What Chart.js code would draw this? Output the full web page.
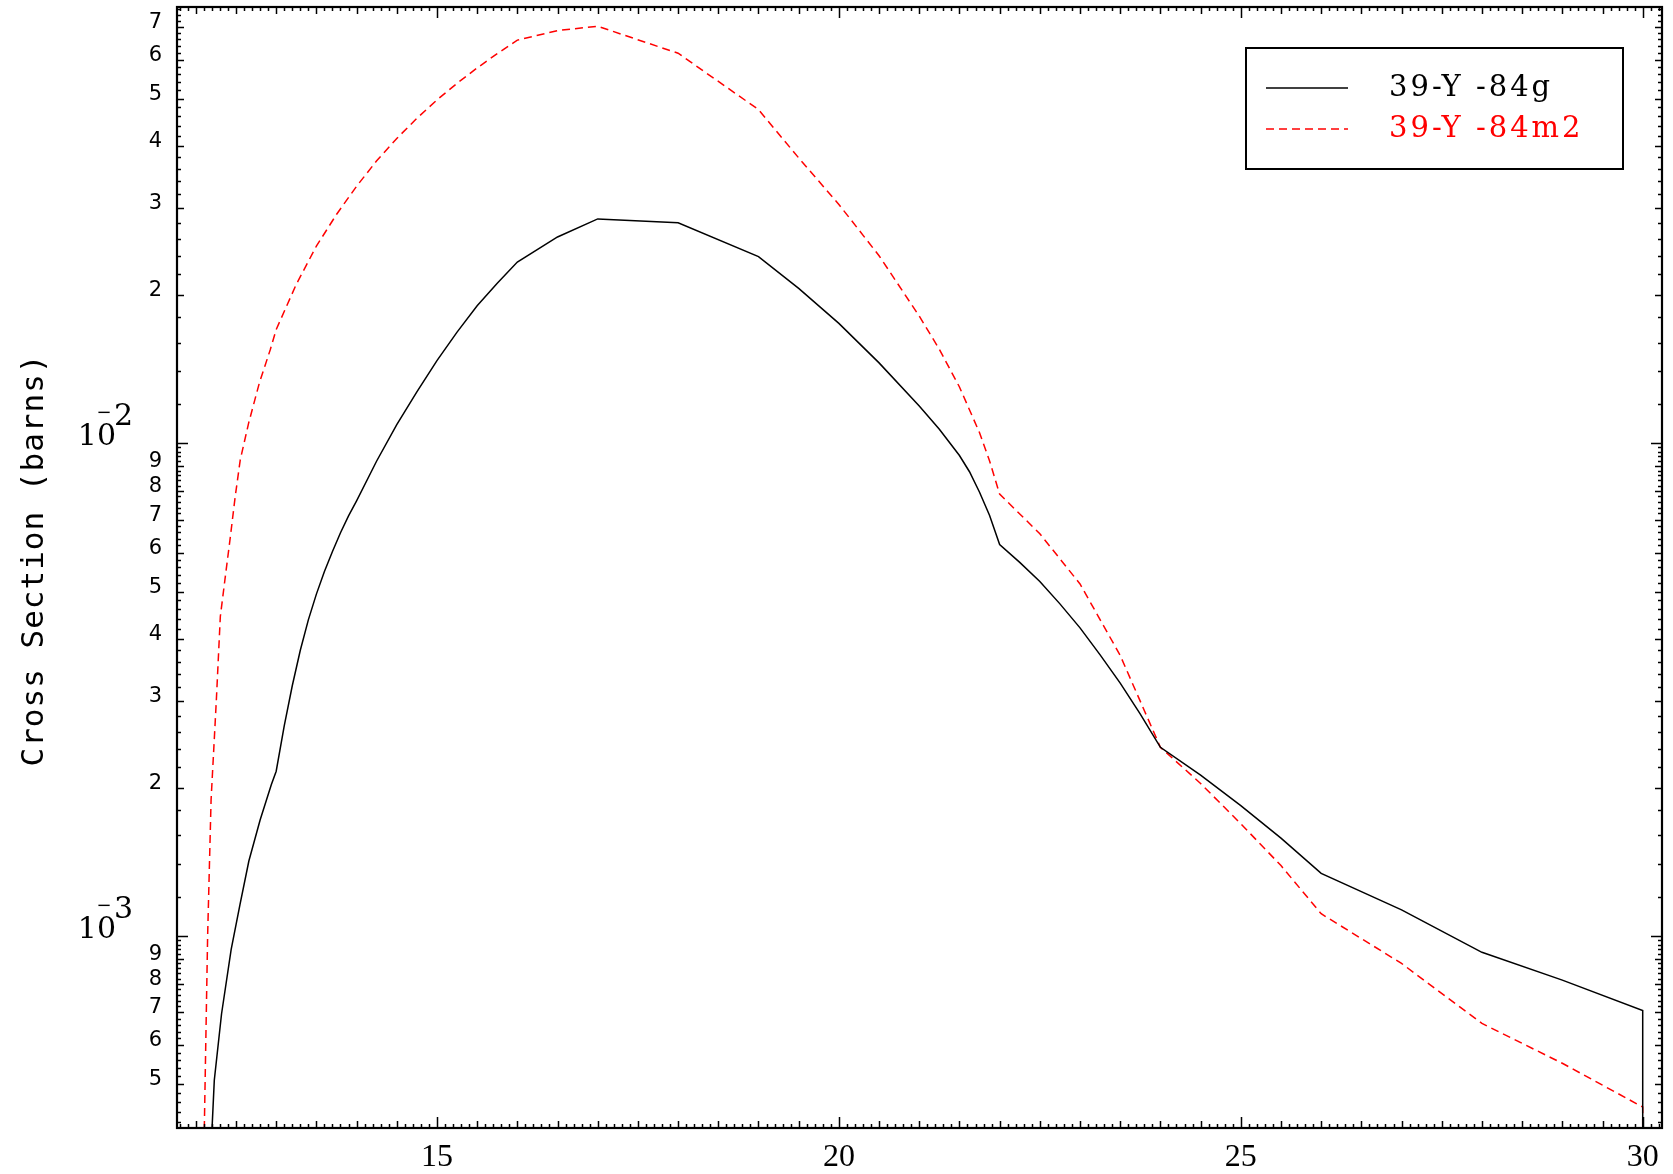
<!DOCTYPE html>
<html>
<head>
<meta charset="utf-8">
<script src="https://cdn.jsdelivr.net/npm/chart.js@4.4.1/dist/chart.umd.min.js"></script>
<style>
  html, body { margin: 0; padding: 0; background: #fff; }
  #wrap { width: 1673px; height: 1174px; }
</style>
</head>
<body>
<div id="wrap"><canvas id="xs-chart" width="1673" height="1174"></canvas></div>
<script>
// incident energy (MeV) and cross section (barns)
const energyG = [12.19, 12.23, 12.32, 12.44, 12.55, 12.66, 12.8, 12.94, 13.0,
  13.1, 13.2, 13.3, 13.4, 13.5, 13.6, 13.7, 13.8, 13.9, 14.0,
  14.25, 14.5, 14.75, 15.0, 15.25, 15.5, 15.75, 16, 16.5, 17, 18, 19, 19.5, 20, 20.5, 21, 21.25, 21.5, 21.625, 21.75, 21.875,
  22, 22.25, 22.5, 22.75, 23, 23.25, 23.5, 23.75, 24, 24.5, 25, 25.5, 26, 27, 28, 29, 30, 30];
const sigmaG = [3.7e-4, 5.1e-4, 6.95e-4, 9.4e-4, 1.16e-3, 1.42e-3, 1.72e-3, 2.03e-3, 2.16e-3,
  2.67e-3, 3.22e-3, 3.80e-3, 4.38e-3, 4.94e-3, 5.49e-3, 6.03e-3, 6.58e-3, 7.12e-3, 7.64e-3,
  9.2e-3, 1.09e-2, 1.27e-2, 1.47e-2, 1.68e-2, 1.90e-2, 2.11e-2, 2.33e-2, 2.62e-2, 2.85e-2, 2.80e-2, 2.39e-2, 2.06e-2, 1.75e-2, 1.455e-2, 1.19e-2, 1.067e-2, 9.44e-3, 8.75e-3, 7.95e-3, 7.13e-3,
  6.23e-3, 5.73e-3, 5.24e-3, 4.72e-3, 4.22e-3, 3.72e-3, 3.26e-3, 2.82e-3, 2.415e-3, 2.12e-3, 1.84e-3, 1.58e-3, 1.34e-3, 1.13e-3, 9.27e-4, 8.14e-4, 7.06e-4, 1e-5];

const energyM = [12.08, 12.106, 12.147, 12.19, 12.255, 12.305, 12.367, 12.43, 12.49, 12.553, 12.657, 12.79, 12.926,
  13.0, 13.25, 13.5, 13.75, 14.0, 14.25, 14.5, 14.75, 15.0, 15.25, 15.5, 15.75, 16, 16.5, 17, 18, 19, 19.5, 20, 20.5, 21, 21.25, 21.5, 21.75, 21.875,
  22, 22.5, 23, 23.5, 24, 24.5, 25, 25.5, 26, 27, 28, 29, 30, 30];
const sigmaM = [1e-5, 4.1e-4, 1.0e-3, 1.89e-3, 3.0e-3, 4.45e-3, 5.36e-3, 6.46e-3, 7.79e-3, 9.25e-3, 1.098e-2, 1.324e-2, 1.547e-2,
  1.70e-2, 2.10e-2, 2.51e-2, 2.91e-2, 3.32e-2, 3.74e-2, 4.15e-2, 4.56e-2, 4.97e-2, 5.37e-2, 5.77e-2, 6.17e-2, 6.57e-2, 6.87e-2, 7.01e-2, 6.18e-2, 4.75e-2, 3.79e-2, 3.05e-2, 2.40e-2, 1.81e-2, 1.55e-2, 1.30e-2, 1.05e-2, 9.2e-3,
  7.88e-3, 6.55e-3, 5.18e-3, 3.71e-3, 2.415e-3, 2.04e-3, 1.69e-3, 1.39e-3, 1.11e-3, 8.8e-4, 6.65e-4, 5.52e-4, 4.5e-4, 1e-5];

const seriesLabels = ["39-Y -84g", "39-Y -84m2"];
const seriesColors = ["#000000", "#ff0000"];
const xTickLabels = [15, 20, 25, 30];
const yDecades = [-4, -3, -2, -1];
const yAxisTitle = "Cross Section (barns)";

const X_MIN = 11.766, X_MAX = 30.24;
const Y_MIN = 4.08e-4, Y_MAX = 7.67e-2;

function toPoints(xs, ys) {
  return xs.map((x, i) => ({ x, y: ys[i] }));
}

const idlAxes = {
  id: "idlAxes",
  afterDatasetsDraw(chart) {
    const { ctx, chartArea: a, scales: { x, y } } = chart;
    ctx.save();
    ctx.strokeStyle = "#000";
    ctx.fillStyle = "#000";

    // x ticks, bottom and top: 0.1 minor, 0.5 medium, 5 major
    ctx.lineWidth = 1.5;
    ctx.beginPath();
    for (let i = Math.ceil(X_MIN * 10); i <= Math.floor(X_MAX * 10); i++) {
      const px = Math.round(x.getPixelForValue(i / 10)) + 0.5;
      const len = i % 50 === 0 ? 11 : i % 5 === 0 ? 7 : 4;
      ctx.moveTo(px, a.bottom); ctx.lineTo(px, a.bottom - len);
      ctx.moveTo(px, a.top); ctx.lineTo(px, a.top + len);
    }
    // y ticks, left and right
    for (const n of yDecades) {
      for (let k = 10; k < 100; k += 2) {
        const v = (k / 10) * Math.pow(10, n);
        if (v < Y_MIN || v > Y_MAX) continue;
        const py = Math.round(y.getPixelForValue(v)) + 0.5;
        const len = k === 10 ? 11 : k % 10 === 0 ? 7 : 4;
        ctx.moveTo(a.left, py); ctx.lineTo(a.left + len, py);
        ctx.moveTo(a.right, py); ctx.lineTo(a.right - len, py);
      }
    }
    ctx.stroke();

    // frame
    ctx.lineWidth = 2.2;
    ctx.strokeRect(a.left, a.top, a.right - a.left, a.bottom - a.top);

    // x labels
    ctx.font = "32px 'Liberation Serif'";
    ctx.textAlign = "center";
    ctx.textBaseline = "alphabetic";
    for (const t of xTickLabels) {
      ctx.fillText(String(t), x.getPixelForValue(t), a.bottom + 38);
    }

    // y labels
    for (const n of yDecades) {
      for (let k = 1; k <= 9; k++) {
        const v = k * Math.pow(10, n);
        if (v < Y_MIN || v > Y_MAX) continue;
        const py = y.getPixelForValue(v);
        if (k === 1) {
          ctx.font = "30px 'DejaVu Serif'";
          ctx.textAlign = "right";
          ctx.fillText("10", 116, py + 2);
          ctx.font = "18px 'DejaVu Serif'";
          ctx.textAlign = "center";
          ctx.fillText("\u2212", 104, py - 25);
          ctx.font = "30px 'DejaVu Serif'";
          ctx.textAlign = "left";
          ctx.fillText(String(-n), 114, py - 18);
        } else {
          ctx.font = "21px 'DejaVu Sans'";
          ctx.textAlign = "right";
          ctx.fillText(String(k), 162, py + 1);
        }
      }
    }

    // y title
    ctx.save();
    ctx.translate(43, 560);
    ctx.rotate(-Math.PI / 2);
    ctx.font = "31px 'DejaVu Sans Mono'";
    ctx.letterSpacing = "1px";
    ctx.textAlign = "center";
    ctx.fillText(yAxisTitle, 0, 0);
    ctx.restore();

    // legend box
    ctx.lineWidth = 2;
    ctx.strokeRect(1246, 48, 377, 121);
    const rows = [88, 129];
    chart.data.datasets.forEach((ds, i) => {
      const ly = rows[i];
      ctx.strokeStyle = ds.borderColor;
      ctx.lineWidth = 1.5;
      ctx.setLineDash(ds.borderDash || []);
      ctx.beginPath();
      ctx.moveTo(1266, ly); ctx.lineTo(1348, ly);
      ctx.stroke();
      ctx.setLineDash([]);
      ctx.fillStyle = ds.borderColor;
      ctx.font = "29px 'DejaVu Serif'";
      ctx.letterSpacing = "3px";
      ctx.textAlign = "left";
      ctx.fillText(ds.label, 1389, ly + 8);
      ctx.letterSpacing = "0px";
    });
    ctx.restore();
  }
};

new Chart(document.getElementById("xs-chart"), {
  type: "scatter",
  data: {
    datasets: [
      {
        label: seriesLabels[0],
        data: toPoints(energyG, sigmaG),
        borderColor: seriesColors[0],
        borderWidth: 1.5,
        showLine: true,
        pointRadius: 0,
        tension: 0,
      },
      {
        label: seriesLabels[1],
        data: toPoints(energyM, sigmaM),
        borderColor: seriesColors[1],
        borderWidth: 1.5,
        borderDash: [8, 5],
        showLine: true,
        pointRadius: 0,
        tension: 0,
      },
    ],
  },
  options: {
    responsive: false,
    animation: false,
    devicePixelRatio: 1,
    layout: { padding: { left: 177, top: 7, right: 11, bottom: 46 } },
    plugins: { legend: { display: false }, tooltip: { enabled: false } },
    scales: {
      x: { type: "linear", min: X_MIN, max: X_MAX, display: false },
      y: { type: "logarithmic", min: Y_MIN, max: Y_MAX, display: false },
    },
  },
  plugins: [idlAxes],
});
</script>
</body>
</html>
